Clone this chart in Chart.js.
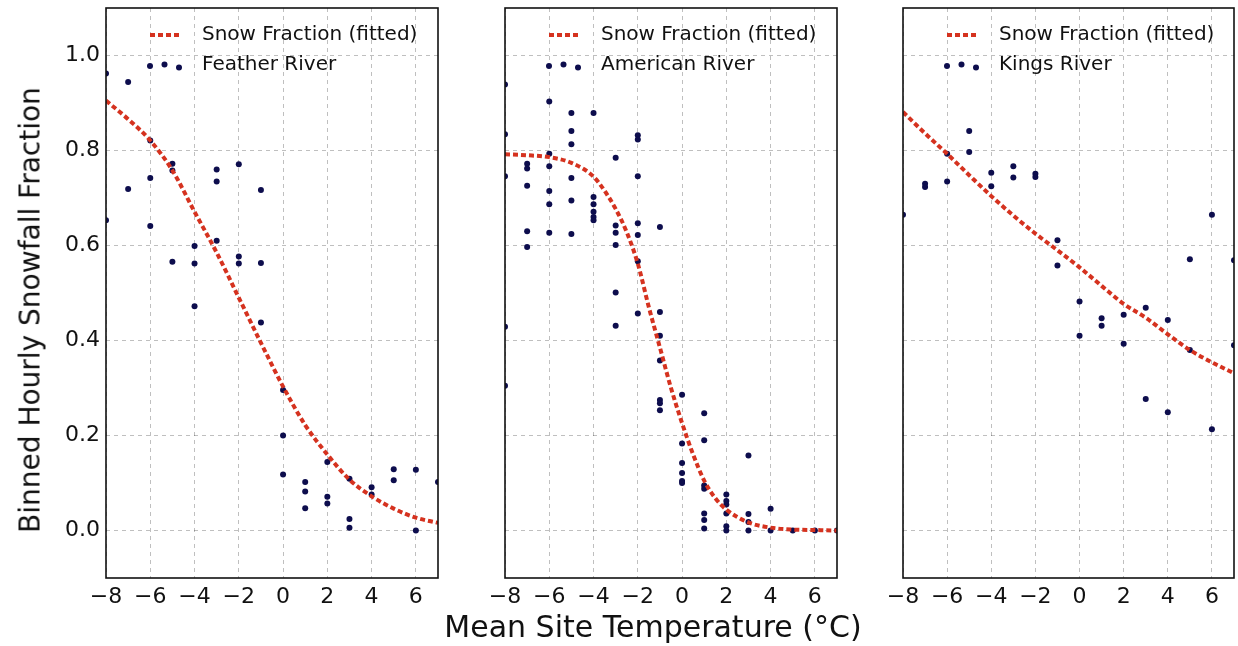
<!DOCTYPE html>
<html><head><meta charset="utf-8">
<script src="https://cdn.jsdelivr.net/npm/chart.js@4"></script>
<style>
html,body{margin:0;padding:0;background:#fff;}
#wrap{position:relative;width:1238px;height:646px;overflow:hidden;font-family:"DejaVu Sans",sans-serif;background:#fff;}
canvas{position:absolute;left:0;top:0;}
#ytitle{position:absolute;left:30px;top:310px;transform:translate(-50%,-50%) rotate(-90deg);font-size:28px;white-space:nowrap;color:#111;}
#xtitle{position:absolute;left:653px;top:626px;transform:translate(-50%,-50%);font-size:30px;white-space:nowrap;color:#111;}
</style></head>
<body>
<div id="wrap">
<canvas id="c1" width="1238" height="646"></canvas>
<canvas id="c2" width="1238" height="646"></canvas>
<canvas id="c3" width="1238" height="646"></canvas>
<div id="ytitle">Binned Hourly Snowfall Fraction</div>
<div id="xtitle">Mean Site Temperature (°C)</div>
</div>
<script>
// ---- tick labels ----
const xTicks = [-8, -6, -4, -2, 0, 2, 4, 6];
const yTicks = [0.0, 0.2, 0.4, 0.6, 0.8, 1.0];

// ---- legend labels ----
const fitLabel = 'Snow Fraction (fitted)';
const basinNames = ['Feather River', 'American River', 'Kings River'];

// ---- Feather River ----
const featherTemps = [-8,-8,-7,-7,-6,-6,-6,-5,-5,-5,-4,-4,-4,-3,-3,-3,-2,-2,-2,-1,-1,-1,0,0,0,1,1,1,2,2,2,3,3,3,4,4,5,5,6,6,7];
const featherFrac  = [0.962,0.653,0.944,0.719,0.821,0.742,0.641,0.772,0.758,0.566,0.599,0.562,0.472,0.760,0.735,0.610,0.771,0.577,0.562,0.717,0.563,0.438,0.296,0.200,0.118,0.102,0.082,0.047,0.144,0.071,0.057,0.109,0.024,0.006,0.091,0.076,0.129,0.106,0.128,0.000,0.102];
const featherFitTemps = [-8,-7,-6,-5,-4,-3,-2,-1,0,1,2,3,4,5,6,7];
const featherFit      = [0.905,0.866,0.821,0.758,0.671,0.585,0.490,0.395,0.303,0.222,0.160,0.107,0.072,0.046,0.027,0.016];

// ---- American River ----
const americanTemps = [
 -8,-8,-8,-8,-8,
 -7,-7,-7,-7,-7,
 -6,-6,-6,-6,-6,-6,
 -5,-5,-5,-5,-5,-5,
 -4,-4,-4,-4,-4,-4,
 -3,-3,-3,-3,-3,-3,
 -2,-2,-2,-2,-2,-2,-2,
 -1,-1,-1,-1,-1,-1,-1,
 0,0,0,0,0,0,
 1,1,1,1,1,1,1,
 2,2,2,2,2,2,
 3,3,3,3,
 4,4,5,6,7];
const americanFrac = [
 0.939,0.834,0.746,0.429,0.305,
 0.772,0.762,0.726,0.630,0.597,
 0.903,0.793,0.767,0.715,0.687,0.627,
 0.879,0.841,0.813,0.742,0.695,0.624,
 0.879,0.702,0.687,0.671,0.660,0.653,
 0.785,0.642,0.627,0.601,0.501,0.431,
 0.832,0.823,0.746,0.647,0.622,0.567,0.457,
 0.639,0.460,0.410,0.358,0.275,0.268,0.253,
 0.286,0.183,0.142,0.121,0.104,0.100,
 0.247,0.190,0.095,0.088,0.036,0.022,0.004,
 0.076,0.062,0.055,0.036,0.009,0.000,
 0.158,0.035,0.018,0.000,
 0.046,0.000,0.000,0.000,0.000];
const americanFitTemps = [-8,-7,-6,-5,-4,-3.5,-3,-2.5,-2,-1.5,-1,-0.5,0,0.5,1,1.5,2,3,4,5,6,7];
const americanFit      = [0.792,0.790,0.786,0.774,0.745,0.715,0.677,0.628,0.562,0.470,0.385,0.300,0.226,0.160,0.105,0.068,0.044,0.017,0.006,0.002,0.001,0.000];

// ---- Kings River ----
const kingsTemps = [-8,-7,-7,-6,-6,-5,-5,-4,-4,-3,-3,-2,-2,-1,-1,0,0,1,1,2,2,3,3,4,4,5,5,6,6,7,7];
const kingsFrac  = [0.665,0.730,0.723,0.793,0.735,0.841,0.797,0.753,0.725,0.767,0.743,0.751,0.744,0.611,0.558,0.482,0.410,0.447,0.431,0.454,0.393,0.469,0.277,0.443,0.249,0.571,0.380,0.665,0.213,0.569,0.390];
const kingsFitTemps = [-8,-7,-6,-5,-4,-3,-2,-1,0,1,2,3,4,5,6,7];
const kingsFit      = [0.881,0.836,0.793,0.748,0.704,0.663,0.625,0.590,0.554,0.515,0.477,0.448,0.413,0.380,0.354,0.331];

// ---- styling ----
const FONT = '"DejaVu Sans", sans-serif';
const RED = '#d5321f';
const NAVY = '#0d0d4d';
const GRID = 'rgba(0,0,0,0.25)';
const DASH = [5, 3];

const zip = (xs, ys) => xs.map((x, i) => ({x: x, y: ys[i]}));

const framePlugin = {
  id: 'frameLegend',
  afterDatasetsDraw(chart, args, opts) {
    const ctx = chart.ctx, a = chart.chartArea;
    ctx.save();
    ctx.strokeStyle = '#111';
    ctx.lineWidth = 1.6;
    ctx.setLineDash([]);
    ctx.strokeRect(a.left, a.top, a.right - a.left, a.bottom - a.top);
    // legend: fitted line sample
    const L = a.left;
    ctx.strokeStyle = RED;
    ctx.lineWidth = 4;
    ctx.setLineDash(DASH);
    ctx.beginPath();
    ctx.moveTo(L + 44, a.top + 27);
    ctx.lineTo(L + 75, a.top + 27);
    ctx.stroke();
    ctx.setLineDash([]);
    // legend: scatter sample (3 dots)
    ctx.fillStyle = NAVY;
    [[44, 58], [58.5, 56.5], [73, 59.5]].forEach(p => {
      ctx.beginPath();
      ctx.arc(L + p[0], a.top + p[1], 3, 0, Math.PI * 2);
      ctx.fill();
    });
    ctx.fillStyle = '#111';
    ctx.font = '20px ' + FONT;
    ctx.textBaseline = 'middle';
    ctx.textAlign = 'left';
    ctx.fillText(fitLabel, L + 96, a.top + 27);
    ctx.fillText(opts.name, L + 96, a.top + 57);
    ctx.restore();
  }
};

function makePanel(id, panelLeft, panelRight, name, tx, ty, fx, fy, showY) {
  const fmtX = v => (v < 0 ? '\u2212' + Math.abs(v) : String(v));
  new Chart(document.getElementById(id), {
    type: 'scatter',
    data: {
      datasets: [
        {
          type: 'scatter',
          label: fitLabel,
          data: zip(fx, fy),
          showLine: true,
          borderColor: RED,
          borderWidth: 4,
          borderDash: DASH,
          pointRadius: 0,
          cubicInterpolationMode: 'monotone',
          fill: false,
          order: 1
        },
        {
          type: 'scatter',
          label: name,
          data: zip(tx, ty),
          pointRadius: 3,
          pointBackgroundColor: NAVY,
          pointBorderWidth: 0,
          backgroundColor: NAVY,
          borderColor: NAVY,
          order: 2
        }
      ]
    },
    options: {
      responsive: false,
      animation: false,
      events: [],
      layout: { padding: { left: panelLeft - 60, right: 1238 - panelRight, top: 8, bottom: 28 } },
      plugins: { legend: { display: false }, tooltip: { enabled: false }, frameLegend: { name: name } },
      scales: {
        x: {
          type: 'linear', min: -8, max: 7,
          afterBuildTicks: s => { s.ticks = xTicks.map(v => ({ value: v })); },
          afterFit: s => { s.height = 40; s.paddingLeft = 0; s.paddingRight = 0; },
          grid: { color: GRID, lineWidth: 1, drawTicks: false, borderDash: [4, 4] },
          border: { display: false, dash: [4, 4] },
          ticks: { color: '#111', font: { family: FONT, size: 22 }, padding: 6, maxRotation: 0, autoSkip: false, callback: fmtX }
        },
        y: {
          type: 'linear', min: -0.1, max: 1.1,
          afterBuildTicks: s => { s.ticks = yTicks.map(v => ({ value: v })); },
          afterFit: s => { s.width = 60; s.paddingTop = 0; s.paddingBottom = 0; },
          grid: { color: GRID, lineWidth: 1, drawTicks: false, borderDash: [4, 4] },
          border: { display: false, dash: [4, 4] },
          ticks: { display: showY, color: '#111', font: { family: FONT, size: 22 }, padding: 6, callback: v => Number(v).toFixed(1) }
        }
      }
    },
    plugins: [framePlugin]
  });
}

makePanel('c1', 106, 438, basinNames[0], featherTemps, featherFrac, featherFitTemps, featherFit, true);
makePanel('c2', 505, 837, basinNames[1], americanTemps, americanFrac, americanFitTemps, americanFit, false);
makePanel('c3', 903, 1235, basinNames[2], kingsTemps, kingsFrac, kingsFitTemps, kingsFit, false);
</script>
</body></html>
